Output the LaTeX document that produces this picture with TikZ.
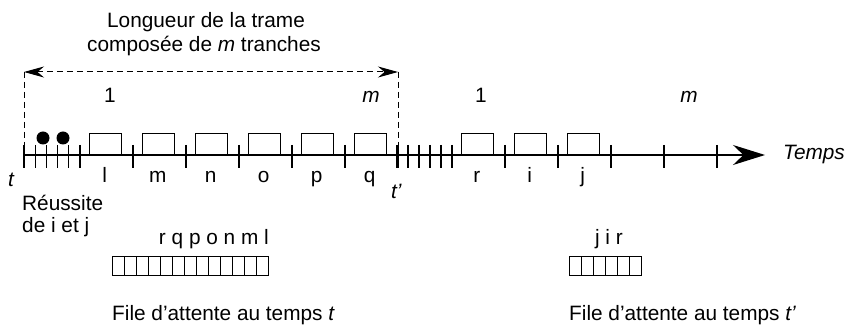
\documentclass[tikz,border=0pt]{standalone}
\usepackage{fontspec}
\setmainfont{Liberation Sans}
\usetikzlibrary{arrows.meta,positioning}

\tikzset{
  txt/.style={font=\fontsize{20.8}{25}\selectfont, inner sep=0pt},
  axisline/.style={line width=1.3pt},
  dashline/.style={line width=1pt, dash pattern=on 6pt off 4pt},
  slotbox/.style={draw, line width=1.3pt, minimum width=32.5pt, minimum height=21pt, inner sep=0pt, anchor=south west},
  cell/.style={draw, line width=0.9pt, minimum width=12pt, minimum height=19.5pt, inner sep=0pt, anchor=north west},
  dot/.style={circle, fill, minimum size=13pt, inner sep=0pt},
}

\begin{document}
\begin{tikzpicture}[x=1pt, y=-1pt, every node/.style={txt}]
  \useasboundingbox (0,0) rectangle (848,328);

  % Frame length
  \node[anchor=base] (title1) at (206,28) {Longueur de la trame};
  \node[anchor=base] (title2) at (204,52) {compos\'ee de \textit{m} tranches};
  \coordinate (fa) at (24,72);
  \coordinate (fa-bot) at (24,145);
  \coordinate (fb) at (398,72);
  \coordinate (fb-bot) at (398,145);
  \draw[dashline] (fa) -- (fa-bot);
  \draw[dashline] (fb) -- (fb-bot);
  \draw[dashline, {Stealth[length=20pt, width=11pt]}-{Stealth[length=20pt, width=11pt]}] (fa) -- (fb);

  % Time axis
  \coordinate (t0) at (24,155);
  \coordinate (tend) at (765,155);
  \draw[axisline, -{Stealth[length=32pt, width=20pt]}] (t0) -- (tend);
  \node[anchor=base west] (temps) at (783,160) {\textit{Temps}};
  \node[anchor=base west] (tt) at (8,187) {\textit{t}};
  \node[anchor=base west] (ttp) at (391,199) {\textit{t'}};

  % Reservation mini-slots
  \foreach \i in {0,...,5} {
    \draw[axisline] (24+11.2*\i,145) -- (24+11.2*\i,168);
    \draw[axisline] (397+11*\i,145) -- (397+11*\i,168);
  }
  % Slot boundaries
  \foreach \k in {1,...,6} {
    \draw[axisline] (80+53*\k,145) -- (80+53*\k,168);
  }
  \foreach \k in {1,...,5} {
    \draw[axisline] (452+53*\k,145) -- (452+53*\k,168);
  }

  % Successful reservations
  \node[dot] (res-i) at (43,138) {};
  \node[dot] (res-j) at (63,138) {};
  \node[anchor=base west] (succ1) at (22,211) {R\'eussite};
  \node[anchor=base west] (succ2) at (22,233) {de i et j};

  % Slots of the first frame
  \foreach \lab [count=\k from 0] in {l,m,n,o,p,q} {
    \node[slotbox] (sa-\k) at (88.5+53*\k,155) {};
    \node[anchor=base] (la-\k) at (104.75+53*\k,183) {\lab};
  }
  % Slots of the second frame
  \foreach \lab [count=\k from 0] in {r,i,j} {
    \node[slotbox] (sb-\k) at (460.5+53*\k,155) {};
    \node[anchor=base] (lb-\k) at (476.75+53*\k,183) {\lab};
  }
  \node[anchor=base] (na1) at (110,103) {1};
  \node[anchor=base] (nam) at (371,103) {\textit{m}};
  \node[anchor=base] (nb1) at (481,103) {1};
  \node[anchor=base] (nbm) at (689,103) {\textit{m}};

  % Queue at t
  \foreach \i in {0,...,12} {
    \node[cell] (qt-\i) at (112+12*\i,256) {};
  }
  \node[anchor=base east] (qt-lab) at (269,245) {r q p o n m l};
  \node[anchor=base west] (qt-cap) at (112,321) {File d'attente au temps \textit{t}};

  % Queue at t'
  \foreach \i in {0,...,5} {
    \node[cell] (qtp-\i) at (569+12*\i,256) {};
  }
  \node[anchor=base east] (qtp-lab) at (623,245) {j i r};
  \node[anchor=base west] (qtp-cap) at (569,321) {File d'attente au temps \textit{t'}};
\end{tikzpicture}
\end{document}
